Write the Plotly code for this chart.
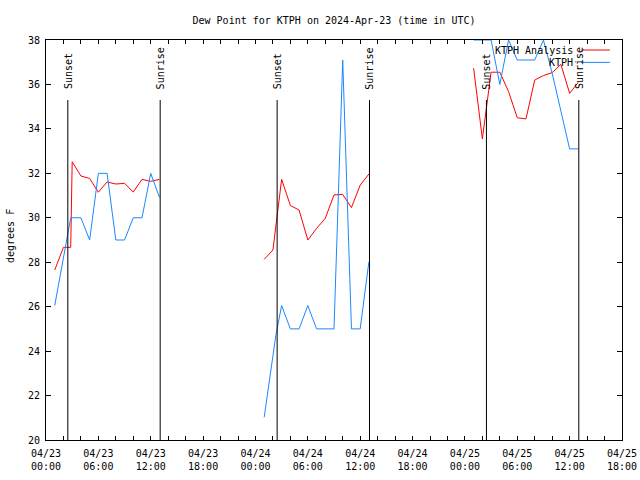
import plotly.graph_objects as go

# ---- data ----
analysis_day1_times = ["2024-04-23 01:00", "2024-04-23 02:00", "2024-04-23 02:50", "2024-04-23 03:00",
                       "2024-04-23 04:00", "2024-04-23 05:00", "2024-04-23 06:00", "2024-04-23 07:00",
                       "2024-04-23 08:00", "2024-04-23 09:00", "2024-04-23 10:00", "2024-04-23 11:00",
                       "2024-04-23 12:00", "2024-04-23 13:00"]
analysis_day1_vals = [27.65, 28.67, 28.67, 32.52, 31.88, 31.77, 31.15, 31.61, 31.52, 31.55, 31.16, 31.73, 31.64, 31.73]

analysis_day2_times = ["2024-04-24 01:00", "2024-04-24 02:00", "2024-04-24 03:00", "2024-04-24 04:00",
                       "2024-04-24 05:00", "2024-04-24 06:00", "2024-04-24 07:00", "2024-04-24 08:00",
                       "2024-04-24 09:00", "2024-04-24 10:00", "2024-04-24 11:00", "2024-04-24 12:00",
                       "2024-04-24 13:00"]
analysis_day2_vals = [28.13, 28.55, 31.73, 30.55, 30.35, 29.0, 29.52, 29.97, 31.03, 31.05, 30.46, 31.47, 31.97]

analysis_day3_times = ["2024-04-25 01:00", "2024-04-25 02:00", "2024-04-25 03:00", "2024-04-25 04:00",
                       "2024-04-25 05:00", "2024-04-25 06:00", "2024-04-25 07:00", "2024-04-25 08:00",
                       "2024-04-25 09:00", "2024-04-25 10:00", "2024-04-25 11:00", "2024-04-25 12:00",
                       "2024-04-25 13:00"]
analysis_day3_vals = [36.73, 33.55, 36.55, 36.55, 35.68, 34.5, 34.45, 36.2, 36.4, 36.53, 36.9, 35.6, 36.1]

obs_day1_times = ["2024-04-23 01:00", "2024-04-23 02:20", "2024-04-23 02:50", "2024-04-23 04:00",
                  "2024-04-23 05:00", "2024-04-23 06:00", "2024-04-23 07:00", "2024-04-23 08:00",
                  "2024-04-23 09:00", "2024-04-23 10:00", "2024-04-23 11:00", "2024-04-23 12:00",
                  "2024-04-23 13:00"]
obs_day1_vals = [26.05, 28.8, 30.0, 30.0, 29.0, 32.0, 32.0, 29.0, 29.0, 30.0, 30.0, 32.0, 30.92]

obs_day2_times = ["2024-04-24 01:00", "2024-04-24 02:20", "2024-04-24 03:00", "2024-04-24 04:00",
                  "2024-04-24 05:00", "2024-04-24 06:00", "2024-04-24 07:00", "2024-04-24 08:00",
                  "2024-04-24 09:00", "2024-04-24 10:00", "2024-04-24 11:00", "2024-04-24 12:00",
                  "2024-04-24 13:00"]
obs_day2_vals = [21.02, 24.7, 26.05, 25.0, 25.0, 26.05, 25.0, 25.0, 25.0, 37.1, 25.0, 25.0, 28.02]

obs_day3_times = ["2024-04-25 01:00", "2024-04-25 02:00", "2024-04-25 03:00", "2024-04-25 04:00",
                  "2024-04-25 05:00", "2024-04-25 06:00", "2024-04-25 07:00", "2024-04-25 08:00",
                  "2024-04-25 09:00", "2024-04-25 10:00", "2024-04-25 11:00", "2024-04-25 12:00",
                  "2024-04-25 13:00"]
obs_day3_vals = [38.0, 38.0, 38.0, 36.0, 38.0, 37.1, 37.1, 37.1, 38.0, 36.5, 34.8, 33.1, 33.1]

sunset_times = ["2024-04-23 02:30", "2024-04-24 02:29", "2024-04-25 02:28"]
sunrise_times = ["2024-04-23 13:05", "2024-04-24 13:04", "2024-04-25 13:03"]

series_names = ["KTPH Analysis", "KTPH"]
series_colors = ["#ff0000", "#1a88ff"]

title_text = "Dew Point for KTPH on 2024-Apr-23 (time in UTC)"
y_label = "degrees F"
x_range = ["2024-04-23 00:00", "2024-04-25 18:00"]
y_range = [20, 38]

FONT = "DejaVu Sans Mono"


def join_segments(*segs):
    xs, ys = [], []
    for i, (t, v) in enumerate(segs):
        if i:
            xs.append(None)
            ys.append(None)
        xs.extend(t)
        ys.extend(v)
    return xs, ys


ax, ay = join_segments((analysis_day1_times, analysis_day1_vals),
                       (analysis_day2_times, analysis_day2_vals),
                       (analysis_day3_times, analysis_day3_vals))
ox, oy = join_segments((obs_day1_times, obs_day1_vals),
                       (obs_day2_times, obs_day2_vals),
                       (obs_day3_times, obs_day3_vals))

fig = go.Figure()
fig.add_trace(go.Scatter(x=ax, y=ay, mode="lines", name=series_names[0],
                         line=dict(color=series_colors[0], width=1), connectgaps=False))
fig.add_trace(go.Scatter(x=ox, y=oy, mode="lines", name=series_names[1],
                         line=dict(color=series_colors[1], width=1), connectgaps=False))

shapes = []
annotations = []
for label, times in (("Sunset", sunset_times), ("Sunrise", sunrise_times)):
    for t in times:
        shapes.append(dict(type="line", xref="x", yref="paper", x0=t, x1=t, y0=0, y1=0.85,
                           line=dict(color="black", width=1)))
        annotations.append(dict(text=label, xref="x", yref="paper", x=t, y=0.872,
                                xanchor="center", yanchor="bottom", textangle=-90,
                                showarrow=False, font=dict(family=FONT, size=10, color="black")))

# legend drawn gnuplot-style (text then line sample)
leg_y = [0.975, 0.944]
for name, col, yy in zip(series_names, series_colors, leg_y):
    annotations.append(dict(text=name, xref="paper", yref="paper", x=0.919, y=yy,
                            xanchor="right", yanchor="middle", showarrow=False,
                            font=dict(family=FONT, size=10, color="black")))
    shapes.append(dict(type="line", xref="paper", yref="paper", x0=0.929, x1=0.979, y0=yy, y1=yy,
                       line=dict(color=col, width=1)))

annotations.append(dict(text=y_label, xref="paper", yref="paper", x=-0.0625, y=0.51,
                        xanchor="center", yanchor="middle", textangle=-90, showarrow=False,
                        font=dict(family=FONT, size=10, color="black")))

fig.update_layout(
    width=640, height=480,
    margin=dict(l=46, r=18, t=40, b=40, autoexpand=False),
    paper_bgcolor="white", plot_bgcolor="white",
    showlegend=False,
    title=dict(text=title_text, x=0.5, xref="paper", y=1 - 20 / 480, yref="container",
               xanchor="center", yanchor="middle", automargin=False,
               font=dict(family=FONT, size=10, color="black")),
    font=dict(family=FONT, size=10, color="black"),
    shapes=shapes, annotations=annotations,
)
fig.update_xaxes(type="date", range=x_range, tick0="2024-04-23 00:00", dtick=2 * 3600000,
                 ticklabelstep=3, tickformat="%m/%d<br>%H:%M", ticks="inside", ticklen=4,
                 tickcolor="black", showline=True, linecolor="black", linewidth=1, mirror="ticks",
                 showgrid=False, zeroline=False, automargin=False, ticklabelstandoff=4,
                 tickfont=dict(family=FONT, size=10, color="black"))
fig.update_yaxes(range=y_range, dtick=2, tick0=20, ticks="inside", ticklen=5, tickcolor="black",
                 showline=True, linecolor="black", linewidth=1, mirror="ticks",
                 showgrid=False, zeroline=False, automargin=False, ticklabelstandoff=3,
                 tickfont=dict(family=FONT, size=10, color="black"))

fig.write_html("out.html",
               config={"displayModeBar": False},
               post_script="document.body.style.margin='0';document.body.style.overflow='hidden';")
